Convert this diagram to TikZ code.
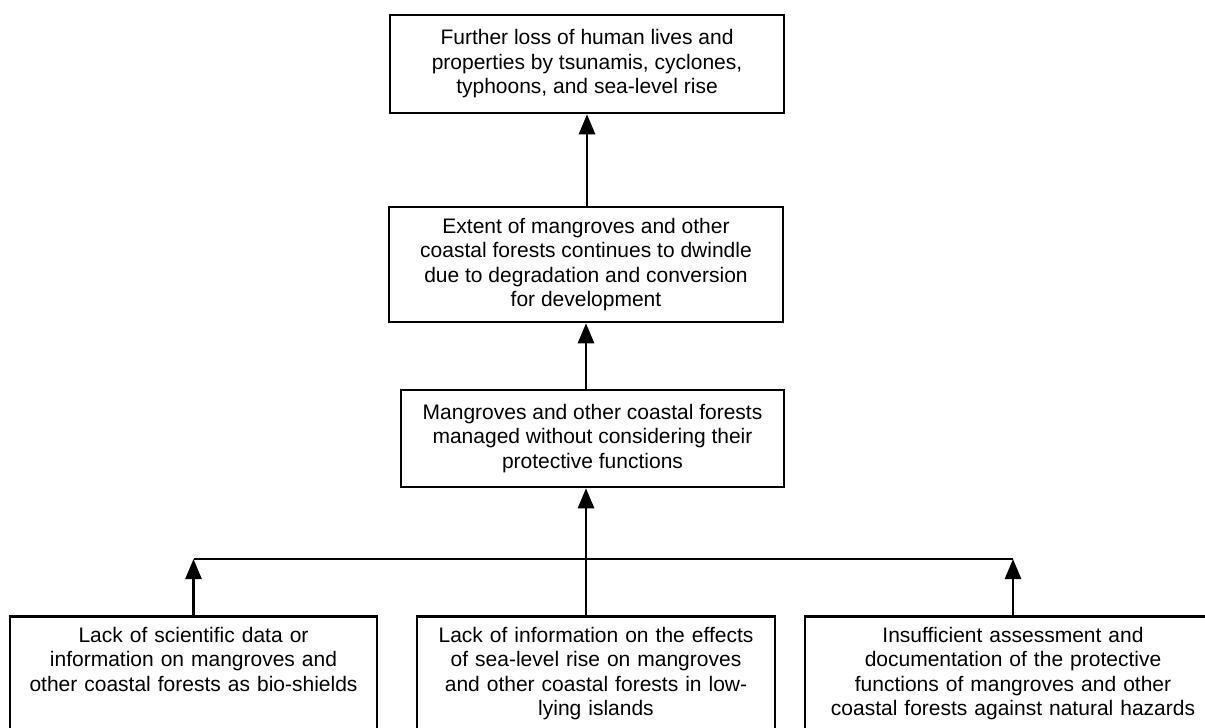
\documentclass[tikz,border=0pt]{standalone}
\usepackage{fontspec}
\setmainfont{Liberation Sans}
\usetikzlibrary{arrows.meta,positioning}
\begin{document}
\begin{tikzpicture}[
                x=1pt,y=-1pt,
                box/.style={draw,line width=2.5pt,align=center,inner sep=8pt,
                    font=\fontsize{21}{24.5}\selectfont},
                cause/.style={box,anchor=north,inner sep=12pt,
                    text height=14pt,text depth=160pt},
                arr/.style={line width=2.5pt,-{Triangle[length=20pt,width=16pt]}}
            ]
                \clip (0,0) rectangle (1205,728);
                \node[box,minimum width=394pt,minimum height=98pt] (loss) at (587,64)
                    {Further loss of human lives and\\properties by tsunamis, cyclones,\\typhoons, and sea-level rise};
                \node[box,minimum width=394pt,minimum height=115pt] (extent) at (586,264.5)
                    {Extent of mangroves and other\\coastal forests continues to dwindle\\due to degradation and conversion\\for development};
                \node[box,minimum width=383pt,minimum height=97pt] (managed) at (592.5,438.5)
                    {Mangroves and other coastal forests\\managed without considering their\\protective functions};
                \coordinate (bus) at (586,559);
                \node[cause,text width=343pt] (data) at (193.5,615)
                    {Lack of scientific data or\\information on mangroves and\\other coastal forests as bio-shields};
                \node[cause,text width=334pt] (sealevel) at (596,615)
                    {Lack of information on the effects\\of sea-level rise on mangroves\\and other coastal forests in low-\\lying islands};
                \node[cause,text width=392pt] (assess) at (1013,615)
                    {Insufficient assessment and\\documentation of the protective\\functions of mangroves and other\\coastal forests against natural hazards};
                \draw[arr] (extent.north -| loss) -- (loss.south);
                \draw[arr] (managed.north -| extent) -- (extent.south);
                \draw[arr] (sealevel.north -| bus) -- (managed.south -| bus);
                \draw[arr] (data.north) -- (data.north |- bus);
                \draw[arr] (assess.north) -- (assess.north |- bus);
                \draw[line width=2.5pt] (data.north |- bus) -- (assess.north |- bus);
            \end{tikzpicture}
\end{document}
